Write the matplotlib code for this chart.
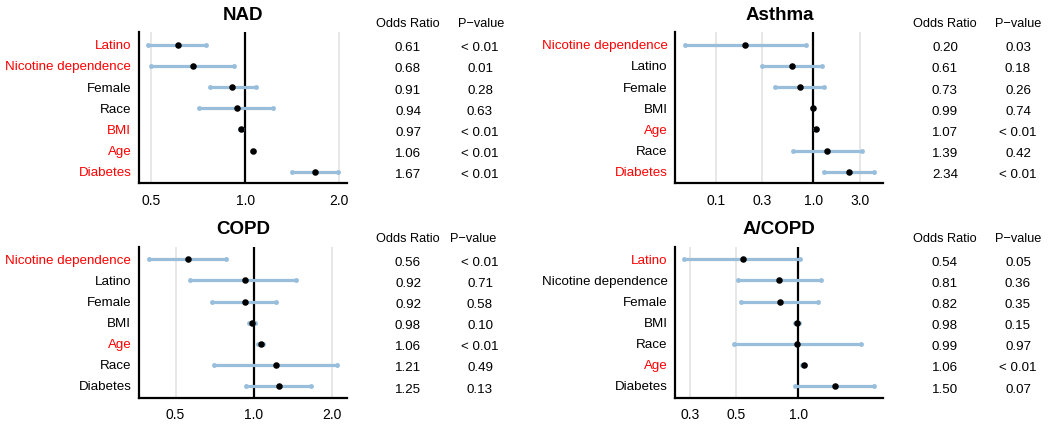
import matplotlib
matplotlib.use("Agg")
import matplotlib.pyplot as plt
import matplotlib.transforms as mtransforms
import numpy as np

plt.rcParams['font.family'] = ['Liberation Sans', 'DejaVu Sans']

# ---------------- data ----------------
nad_labels = ["Latino", "Nicotine dependence", "Female", "Race", "BMI", "Age", "Diabetes"]
nad_or = [0.61, 0.68, 0.91, 0.94, 0.97, 1.06, 1.67]
nad_lo = [0.49, 0.50, 0.77, 0.71, 0.96, 1.05, 1.41]
nad_hi = [0.75, 0.92, 1.08, 1.23, 0.98, 1.07, 1.98]
nad_p = ["< 0.01", "0.01", "0.28", "0.63", "< 0.01", "< 0.01", "< 0.01"]
nad_sig = [True, True, False, False, True, True, True]

asthma_labels = ["Nicotine dependence", "Latino", "Female", "BMI", "Age", "Race", "Diabetes"]
asthma_or = [0.20, 0.61, 0.73, 0.99, 1.07, 1.39, 2.34]
asthma_lo = [0.048, 0.30, 0.41, 0.98, 1.05, 0.62, 1.29]
asthma_hi = [0.84, 1.24, 1.28, 1.00, 1.09, 3.13, 4.19]
asthma_p = ["0.03", "0.18", "0.26", "0.74", "< 0.01", "0.42", "< 0.01"]
asthma_sig = [True, False, False, False, True, False, True]

copd_labels = ["Nicotine dependence", "Latino", "Female", "BMI", "Age", "Race", "Diabetes"]
copd_or = [0.56, 0.92, 0.92, 0.98, 1.06, 1.21, 1.25]
copd_lo = [0.395, 0.57, 0.69, 0.96, 1.04, 0.70, 0.93]
copd_hi = [0.78, 1.45, 1.22, 1.01, 1.08, 2.09, 1.66]
copd_p = ["< 0.01", "0.71", "0.58", "0.10", "< 0.01", "0.49", "0.13"]
copd_sig = [True, False, False, False, True, False, False]

acopd_labels = ["Latino", "Nicotine dependence", "Female", "BMI", "Race", "Age", "Diabetes"]
acopd_or = [0.54, 0.81, 0.82, 0.98, 0.99, 1.06, 1.50]
acopd_lo = [0.28, 0.51, 0.53, 0.96, 0.49, 1.04, 0.965]
acopd_hi = [1.02, 1.29, 1.25, 1.01, 2.00, 1.08, 2.33]
acopd_p = ["0.05", "0.36", "0.35", "0.15", "0.97", "< 0.01", "0.07"]
acopd_sig = [True, False, False, False, False, True, False]

panels = [
    dict(title="NAD", labels=nad_labels, OR=nad_or, lo=nad_lo, hi=nad_hi, p=nad_p, sig=nad_sig,
         ticks=[0.5, 1.0, 2.0], xlim=(0.457, 2.12),
         box=(139, 32.3, 347, 183.3), ylim=(7.54, 0.415), orx=408, px=480, hdr_px=481),
    dict(title="Asthma", labels=asthma_labels, OR=asthma_or, lo=asthma_lo, hi=asthma_hi, p=asthma_p, sig=asthma_sig,
         ticks=[0.1, 0.3, 1.0, 3.0], xlim=(0.0386, 5.21),
         box=(675.3, 32.3, 883.3, 183.3), ylim=(7.54, 0.415), orx=945, px=1018, hdr_px=1018),
    dict(title="COPD", labels=copd_labels, OR=copd_or, lo=copd_lo, hi=copd_hi, p=copd_p, sig=copd_sig,
         ticks=[0.5, 1.0, 2.0], xlim=(0.362, 2.27),
         box=(139, 246.7, 346.7, 398), ylim=(7.57, 0.40), orx=408, px=480, hdr_px=473),
    dict(title="A/COPD", labels=acopd_labels, OR=acopd_or, lo=acopd_lo, hi=acopd_hi, p=acopd_p, sig=acopd_sig,
         ticks=[0.3, 0.5, 1.0], xlim=(0.255, 2.57),
         box=(675.3, 246.7, 883.3, 398), ylim=(7.57, 0.40), orx=945, px=1018, hdr_px=1018),
]

W, H = 1050, 424
fig = plt.figure(figsize=(W / 100, H / 100), dpi=100)

ci_color = "#98bedc"
fs = 9.6

for pn in panels:
    x0, y0, x1, y1 = pn["box"]
    ax = fig.add_axes([x0 / W, 1 - y1 / H, (x1 - x0) / W, (y1 - y0) / H])
    ax.set_xscale("log")
    ax.set_xlim(*pn["xlim"])
    ax.set_ylim(*pn["ylim"])
    n = len(pn["labels"])
    ys = np.arange(1, n + 1)
    for t in pn["ticks"]:
        ax.axvline(t, color="#e3e3e3", lw=1.2, zorder=0)
    ax.axvline(1.0, color="black", lw=1.6, zorder=1)
    for y, o, lo, hi in zip(ys, pn["OR"], pn["lo"], pn["hi"]):
        ax.plot([lo, hi], [y, y], color=ci_color, lw=2.3, zorder=2, solid_capstyle="round")
        ax.plot([lo, hi], [y, y], 'o', color=ci_color, ms=3.5, zorder=3, mew=0)
        ax.plot([o], [y], 'o', color="black", ms=4.7, zorder=4, mew=0)
    ax.set_yticks(ys)
    ax.set_yticklabels(pn["labels"], fontsize=fs)
    for lab, s in zip(ax.get_yticklabels(), pn["sig"]):
        lab.set_color("red" if s else "black")
    ax.set_xticks(pn["ticks"])
    ax.set_xticklabels(["%.1f" % t for t in pn["ticks"]], fontsize=10)
    ax.xaxis.set_minor_locator(matplotlib.ticker.NullLocator())
    ax.tick_params(axis="both", length=0)
    ax.tick_params(axis="x", pad=7.5)
    ax.tick_params(axis="y", pad=5.5)
    for side in ["top", "right"]:
        ax.spines[side].set_visible(False)
    for side in ["left", "bottom"]:
        ax.spines[side].set_linewidth(1.6)
    ax.set_title(pn["title"], fontsize=13.5, fontweight="bold", pad=9)

    tr = mtransforms.blended_transform_factory(fig.transFigure, ax.transData)
    hdr_y = 1 - 24 / 21.2 + 0.15
    ax.text(pn["orx"] / W, hdr_y, "Odds Ratio", transform=tr, ha="center", va="center",
            fontsize=9.2, clip_on=False)
    ax.text(pn["hdr_px"] / W, hdr_y, "P\u2212value", transform=tr, ha="center", va="center",
            fontsize=9.2, clip_on=False)
    for y, o, p in zip(ys, pn["OR"], pn["p"]):
        ax.text(pn["orx"] / W, y + 0.17, "%.2f" % o, transform=tr, ha="center", va="center",
                fontsize=fs, clip_on=False)
        ax.text(pn["px"] / W, y + 0.17, p, transform=tr, ha="center", va="center",
                fontsize=fs, clip_on=False)

fig.savefig("out.png", dpi=100)
